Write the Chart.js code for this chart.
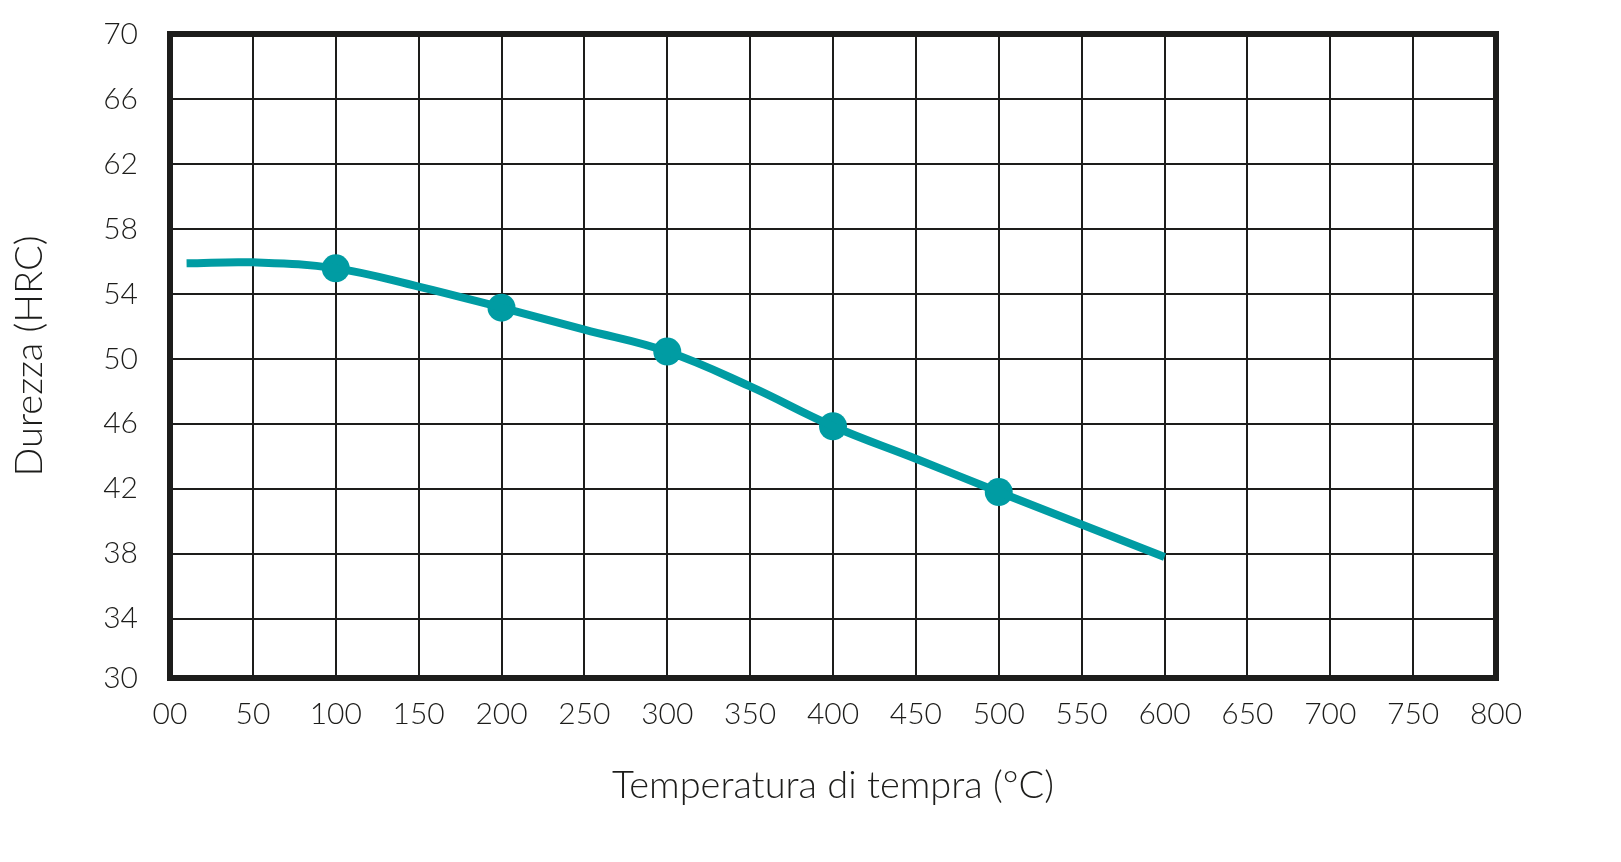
<!DOCTYPE html>
<html>
<head>
<meta charset="utf-8">
<script src="https://cdn.jsdelivr.net/npm/chart.js@4.4.1/dist/chart.umd.min.js"></script>
<style>
  html, body { margin: 0; padding: 0; background: #ffffff; }
  #wrap { width: 1621px; height: 862px; position: relative; }
</style>
</head>
<body>
<div id="wrap"><canvas id="chart"></canvas></div>
<script>
// traced curve (temperature °C -> hardness HRC)
const curveTemp = [10, 50, 100, 150, 200, 250, 300, 350, 400, 450, 500, 550, 600];
const curveHrc  = [55.88, 55.94, 55.57, 54.45, 53.15, 51.8, 50.45, 48.3, 45.85, 43.85, 41.8, 39.8, 37.8];

// measured points (dots)
const markerTemp = [100, 200, 300, 400, 500];
const markerHrc  = [55.57, 53.15, 50.45, 45.85, 41.8];

// axes
const xMin = 0, xMax = 800, xStep = 50;
// in the original the bottom row is a little short: the frame sits at ~30.35, labelled "30"
const yBottom = 30.35, yMax = 70;
const yTicks = [34, 38, 42, 46, 50, 54, 58, 62, 66, 70];
const yBottomLabel = '30';

const teal = '#009ca3';
const ink = '#1d1d1b';
const fontFamily = 'Lato, "DejaVu Sans", sans-serif';

// frame around the plot area (all four sides)
const framePlugin = {
    id: 'frame',
    beforeDatasetsDraw(chart) {
        const {ctx, chartArea} = chart;
        ctx.save();
        ctx.strokeStyle = ink;
        ctx.lineWidth = 6;
        ctx.strokeRect(chartArea.left, chartArea.top, chartArea.right - chartArea.left, chartArea.bottom - chartArea.top);
        ctx.restore();
    }
};

const chartConfig = {
    type: 'line',
    data: {
        datasets: [{
            label: 'curve',
            data: curveTemp.map((t, i) => ({x: t, y: curveHrc[i]})),
            borderColor: teal,
            borderWidth: 8,
            pointRadius: 0,
            tension: 0.4,
            fill: false
        }, {
            label: 'points',
            data: markerTemp.map((t, i) => ({x: t, y: markerHrc[i]})),
            showLine: false,
            pointRadius: 14,
            pointBackgroundColor: teal,
            pointBorderWidth: 0,
            borderColor: teal
        }]
    },
    options: {
        responsive: true,
        maintainAspectRatio: false,
        animation: false,
        devicePixelRatio: 1,
        layout: {padding: {top: 34, right: 125, left: 0, bottom: 0}},
        plugins: {
            legend: {display: false},
            tooltip: {enabled: false}
        },
        scales: {
            x: {
                type: 'linear',
                min: xMin,
                max: xMax,
                afterFit: (scale) => { scale.height = 184; },
                grid: {color: ink, lineWidth: 2, drawTicks: false},
                border: {display: false},
                ticks: {
                    stepSize: xStep,
                    autoSkip: false,
                    maxRotation: 0,
                    padding: 18,
                    color: ink,
                    font: {family: fontFamily, size: 30, weight: '300'},
                    callback: (value) => value === 0 ? '00' : String(value)
                },
                title: {
                    display: true,
                    text: 'Temperatura di tempra (°C)',
                    color: ink,
                    font: {family: fontFamily, size: 38, weight: '300'},
                    padding: {top: 0, bottom: 53}
                }
            },
            y: {
                min: yBottom,
                max: yMax,
                afterBuildTicks: (scale) => {
                    scale.ticks = [yBottom, ...yTicks].map(v => ({value: v}));
                },
                afterFit: (scale) => {
                    scale.width = 170;
                    scale.paddingTop = 0;
                    scale.paddingBottom = 0;
                },
                grid: {color: ink, lineWidth: 2, drawTicks: false},
                border: {display: false},
                ticks: {
                    autoSkip: false,
                    padding: 32,
                    color: ink,
                    font: {family: fontFamily, size: 30, weight: '300'},
                    callback: (value) => value === yBottom ? yBottomLabel : String(value)
                },
                title: {
                    display: true,
                    text: 'Durezza (HRC)',
                    color: ink,
                    font: {family: fontFamily, size: 38, weight: '300'},
                    padding: {top: 7, bottom: 0}
                }
            }
        }
    },
    plugins: [framePlugin]
};

new Chart(document.getElementById('chart'), chartConfig);
</script>
</body>
</html>
